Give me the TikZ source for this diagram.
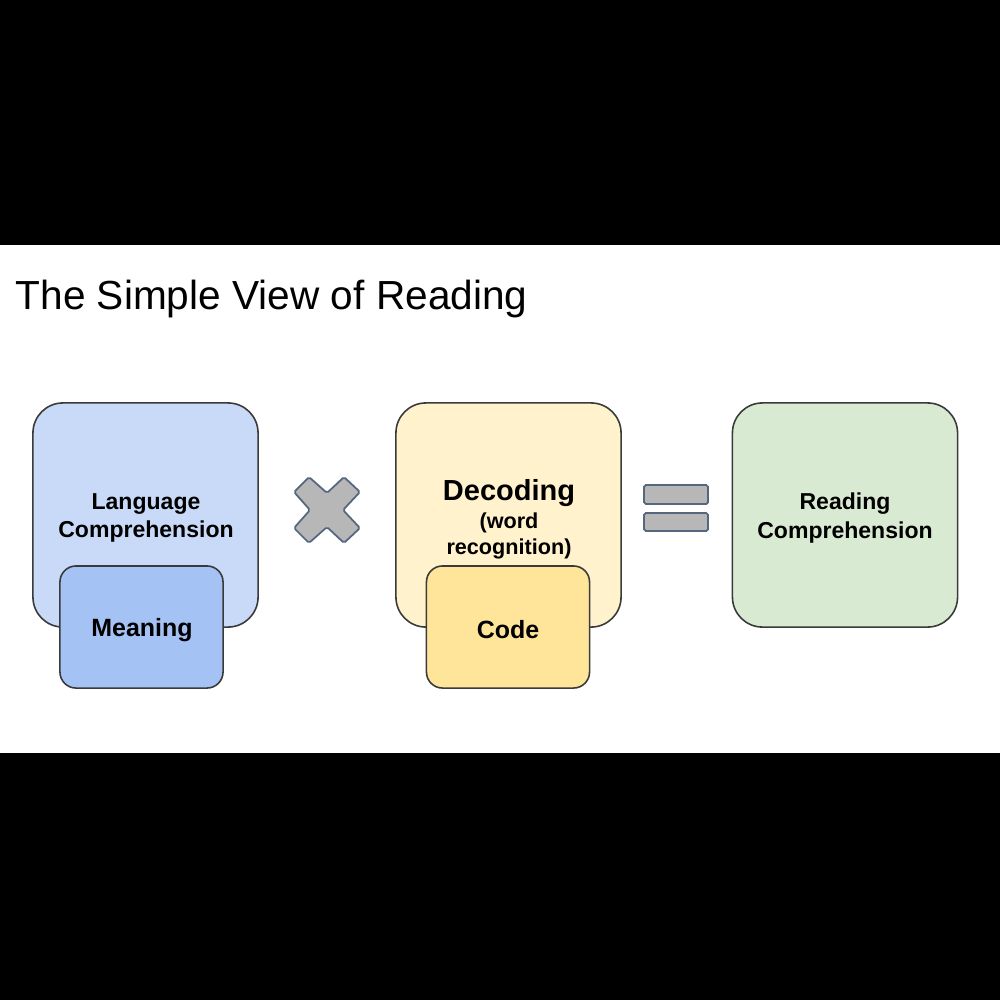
\documentclass[tikz,border=0pt]{standalone}
\usepackage{fontspec}
\setmainfont{Liberation Sans}
\definecolor{bluebig}{HTML}{C9DAF8}
\definecolor{bluesmall}{HTML}{A4C2F4}
\definecolor{yelbig}{HTML}{FFF2CC}
\definecolor{yelsmall}{HTML}{FFE599}
\definecolor{greenbig}{HTML}{D9EAD3}
\definecolor{edgec}{HTML}{3A3A3A}
\definecolor{opfill}{HTML}{B7B7B7}
\definecolor{opedge}{HTML}{56667E}
\begin{document}
\begin{tikzpicture}[x=0.01cm,y=-0.01cm,
  bigbox/.style={draw=edgec,line width=0.45pt,rounded corners=0.3cm,minimum width=2.25cm,minimum height=2.24cm,inner sep=0pt,align=center},
  smallbox/.style={draw=edgec,line width=0.45pt,rounded corners=0.16cm,minimum width=1.63cm,minimum height=1.22cm,inner sep=0pt,align=center},
  optext/.style={draw=opedge,line width=0.5pt,fill=opfill,rounded corners=0.5pt},
  lbl/.style={font=\fontsize{6.55}{8}\selectfont\bfseries,align=center,inner sep=0pt},
  small/.style={font=\fontsize{7.1}{8.5}\selectfont\bfseries,inner sep=0pt}]
\fill[black] (0,0) rectangle (1000,1000);
\fill[white] (0,245) rectangle (1000,753);
\useasboundingbox (0,0) rectangle (1000,1000);
\node[anchor=base west,inner sep=0pt,font=\fontsize{11.55}{14}\selectfont] (title) at (15,309) {The Simple View of Reading};
% Language comprehension
\node[bigbox,fill=bluebig] (lang) at (145.5,515) {};
\node[lbl] (langt) at (146,518) {Language\\Comprehension};
\node[smallbox,fill=bluesmall] (meaning) at (141.5,627) {};
\node[small] (meaningt) at (142,630) {Meaning};
% times
\draw[optext] (294,492) -- (309,477) -- (327,493) -- (344,477) -- (360,492) -- (343,510) -- (360,528) -- (344,543) -- (327,527) -- (309,543) -- (294,528) -- (310,510) -- cycle;
% Decoding
\node[bigbox,fill=yelbig] (dec) at (508.5,515) {};
\node[font=\fontsize{8.25}{10}\selectfont\bfseries,inner sep=0pt] (dect) at (509,493) {Decoding};
\node[font=\fontsize{6.15}{7.4}\selectfont\bfseries,align=center,inner sep=0pt] (decsub) at (509,535.5) {(word\\recognition)};
\node[smallbox,fill=yelsmall] (code) at (508,627) {};
\node[small] (codet) at (508,629.5) {Code};
% equals
\draw[optext] (644,485) rectangle (708,504);
\draw[optext] (644,513) rectangle (708,531);
% Reading comprehension
\node[bigbox,fill=greenbig] (read) at (845,515) {};
\node[lbl] (readt) at (845,518) {Reading\\Comprehension};
\end{tikzpicture}
\end{document}
